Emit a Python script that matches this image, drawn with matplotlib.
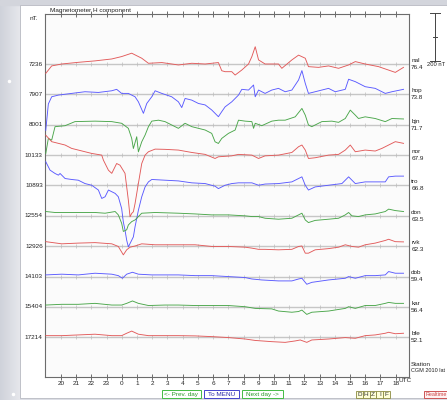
import numpy as np
import matplotlib
matplotlib.use("Agg")
import matplotlib.pyplot as plt
from matplotlib.patches import Rectangle
import matplotlib.transforms as mtransforms

plt.rcParams['font.family'] = ['Liberation Sans', 'DejaVu Sans']

# ---------------- data (time: hours since 19 UTC of previous day, values: nT deviation) -------------
stations = ['nal', 'hop', 'bjn', 'nor', 'tro', 'don', 'rvk', 'dob', 'kar', 'bfe']
latitudes = ['76.4', '73.8', '71.7', '67.9', '66.8', '63.5', '62.3', '59.4', '56.4', '52.1']
base_values = ['7236', '7907', '8001', '10133', '10893', '12554', '12926', '14103', '15404', '17214']
colors = ['red', 'blue', 'green', 'red', 'blue', 'green', 'red', 'blue', 'green', 'red']
hour_labels = ['20', '21', '22', '23', '0', '1', '2', '3', '4', '5', '6', '7', '8', '9', '10',
               '11', '12', '13', '14', '15', '16', '17', '18']

nal_t = [0.0, 0.39, 1.05, 2.14, 3.24, 4.34, 4.99, 5.65, 6.31, 6.75, 7.63, 8.72, 9.60, 10.48, 11.35,
         11.57, 11.79, 12.23, 12.45, 12.89, 13.33, 13.55, 13.77, 13.99, 14.42, 15.30, 15.52, 16.18,
         16.62, 17.06, 17.27, 17.93, 18.59, 19.25, 19.91, 20.35, 21.00, 21.88, 22.98, 23.52]
nal_v = [-39, -8, 0, 7, 13, 21, 31, 45, 24, 3, 6, -4, 3, 0, 6, -28, -32, -32, -46, -25, 0, 31, 72,
         17, 0, 0, -18, 17, 37, 24, -11, -14, -8, -18, -4, 10, 0, -11, -35, -14]

hop_t = [0.0, 0.17, 0.39, 0.83, 1.70, 2.58, 3.46, 4.34, 4.66, 4.99, 5.43, 5.87, 6.09, 6.42, 6.64,
         6.97, 7.19, 7.63, 8.28, 8.72, 8.94, 9.16, 9.60, 10.04, 10.48, 10.91, 11.35, 11.57, 11.79,
         12.23, 12.45, 12.67, 12.89, 13.33, 13.66, 13.77, 13.99, 14.42, 14.86, 15.30, 15.74, 16.18,
         16.62, 16.84, 17.06, 17.27, 17.71, 18.59, 19.03, 19.69, 19.91, 20.35, 21.00, 21.66, 22.32,
         22.76, 23.52]
hop_v = [-150, -40, -10, -3, 4, 11, 8, 15, 21, 4, 4, -10, -31, -79, -38, -10, 15, 4, -10, -31, -55,
         -17, -24, -38, -44, -65, -93, -72, -52, -31, -17, -3, 21, 18, 39, -10, 18, 4, 18, 25, 11, 18,
         60, 99, 46, 4, 11, 25, 11, 21, 63, 53, 32, 25, 4, 11, 21]

bjn_t = [0.0, 0.17, 0.39, 0.61, 1.27, 1.92, 3.24, 4.34, 4.99, 5.43, 5.65, 5.76, 5.98, 6.09, 6.31,
         6.53, 6.75, 6.97, 7.41, 7.84, 8.28, 8.72, 9.16, 9.60, 10.04, 10.48, 10.91, 11.13, 11.35,
         11.57, 12.01, 12.45, 12.67, 13.11, 13.55, 13.66, 13.77, 14.20, 14.86, 15.30, 15.74, 16.40,
         16.84, 17.06, 17.27, 17.49, 18.15, 18.81, 19.25, 19.69, 20.02, 20.35, 20.56, 21.00, 21.66,
         22.32, 22.76, 23.52]
bjn_v = [-120, -57, -64, -8, -4, 13, 15, 13, 6, -15, -57, -99, -50, -113, -71, -43, -8, 15, 19, 13,
         -1, -15, 6, -8, -15, -22, -36, -71, -78, -57, -36, -22, 19, 15, 13, -15, 6, -4, 15, 19, 19,
         33, 68, 40, -1, -8, 13, 15, 10, 26, 61, 40, 26, 33, 26, 13, 26, 24]

nor_t = [0.0, 0.39, 0.83, 1.27, 1.70, 2.14, 3.02, 3.68, 3.79, 4.12, 4.34, 4.66, 4.88, 5.21, 5.43,
         5.54, 5.65, 5.76, 5.87, 6.09, 6.31, 6.53, 6.75, 7.19, 7.84, 8.72, 9.60, 10.48, 11.13, 11.35,
         12.23, 12.67, 13.55, 13.99, 14.42, 15.30, 16.18, 16.62, 16.84, 17.06, 17.27, 17.71, 18.59,
         19.25, 19.69, 20.02, 20.35, 21.00, 21.66, 22.10, 22.54, 22.98, 23.52]
nor_v = [83, 56, 49, 42, 28, 21, 7, 0, -21, -63, -76, -35, -42, -76, -188, -257, -243, -236, -202,
         -118, -35, 0, 14, 25, 24, 21, 11, 3, -14, -7, -3, 3, 0, -14, -3, 0, 11, 35, 42, 21, -14,
         -11, 0, 3, 21, 42, 14, 21, 17, 28, 42, 56, 49]

tro_t = [0.0, 0.28, 0.61, 0.83, 0.94, 1.27, 1.70, 2.14, 2.58, 3.02, 3.46, 3.68, 3.90, 4.12, 4.34,
         4.56, 4.77, 4.99, 5.10, 5.21, 5.32, 5.43, 5.54, 5.65, 5.76, 5.87, 6.09, 6.31, 6.53, 6.75,
         6.97, 7.84, 8.72, 9.60, 10.48, 11.13, 11.35, 11.79, 12.23, 12.67, 13.55, 13.99, 14.42,
         15.30, 16.18, 16.62, 16.84, 17.06, 17.27, 17.71, 18.59, 19.47, 19.91, 20.35, 21.00, 21.66,
         22.32, 22.54, 22.98, 23.52]
tro_v = [99, 64, 50, 43, 50, 29, 25, 22, 8, 1, -19, -54, -47, -19, -26, -33, -47, -96, -152, -186,
         -228, -256, -242, -228, -214, -172, -103, -47, -6, 15, 25, 22, 19, 11, 8, -3, -13, 1, 8,
         11, 11, 1, 6, 8, 15, 29, 36, 1, -19, -6, 1, 8, 36, 8, 15, 15, 15, 36, 39, 39]

don_t = [0.0, 0.61, 2.14, 3.24, 3.90, 4.56, 4.77, 4.99, 5.10, 5.32, 5.43, 5.65, 5.87, 6.09, 6.31,
         7.19, 8.72, 9.82, 10.91, 12.01, 13.11, 13.55, 13.99, 14.42, 15.30, 16.18, 16.62, 16.84,
         17.06, 17.27, 17.71, 18.59, 19.25, 19.69, 19.91, 20.13, 20.56, 21.00, 21.66, 22.32, 22.54,
         22.98, 23.52]
don_v = [18, 14, 14, 14, 11, 18, 4, -31, -65, -58, -38, -24, -17, -3, 11, 14, 11, 8, 4, 4, 0, -3,
         -3, -10, -14, -10, 4, 11, -17, -28, -19, -14, -10, 4, 14, 0, -3, 4, 8, 18, 28, 22, 18]

rvk_t = [0.0, 1.05, 2.14, 3.24, 4.34, 4.77, 5.10, 5.32, 5.54, 5.87, 6.31, 7.19, 8.72, 9.82, 10.91,
         12.01, 13.11, 13.55, 13.99, 14.42, 15.30, 16.18, 16.62, 16.84, 17.06, 17.27, 17.71, 18.59,
         19.25, 19.69, 20.13, 20.56, 21.00, 21.66, 22.32, 22.54, 22.98, 23.52]
rvk_v = [19, 10, 13, 15, 10, -1, -36, -15, -4, 1, 10, 6, 6, 6, -1, -1, -4, -8, -13, -13, -15, -13,
         -1, 1, -29, -29, -15, -10, -4, 6, -1, -4, 6, 13, 24, 29, 19, 18]

dob_t = [0.0, 1.05, 2.14, 3.24, 4.34, 4.77, 5.04, 5.32, 5.70, 6.09, 6.97, 8.72, 9.82, 10.91, 12.01,
         13.11, 13.55, 14.20, 15.30, 16.18, 16.62, 16.84, 17.16, 17.49, 18.59, 19.69, 19.91, 20.35,
         21.00, 21.66, 22.32, 22.54, 22.98, 23.52]
dob_v = [7, 10, 7, 14, 10, 4, -7, 10, 18, 10, 7, 7, 4, 4, 0, -4, -10, -14, -18, -18, -10, -7, -32,
         -24, -14, -7, 0, -7, 4, 4, 7, 21, 14, 14]

kar_t = [0.0, 1.05, 2.14, 3.24, 4.34, 4.99, 5.32, 5.70, 6.09, 6.75, 7.84, 8.72, 9.82, 10.91, 12.01,
         13.11, 13.77, 14.86, 15.30, 16.18, 16.62, 16.84, 17.16, 17.49, 18.59, 19.69, 19.91, 20.35,
         21.00, 21.66, 22.32, 22.54, 22.98, 23.52]
kar_v = [8, 11, 11, 15, 8, 8, 15, 25, 15, 6, 8, 8, 6, 6, 6, 1, -6, -8, -17, -22, -19, -13, -31, -22,
         -17, -6, 1, -6, 6, 6, 15, 19, 15, 15]

bfe_t = [0.0, 1.05, 2.14, 3.24, 4.34, 4.99, 5.32, 5.65, 6.09, 6.75, 7.84, 8.72, 9.82, 10.91, 12.01,
         13.11, 13.77, 14.86, 15.74, 16.40, 16.73, 17.16, 17.49, 18.59, 19.69, 20.35, 21.00, 21.66,
         22.32, 22.54, 22.98, 23.52]
bfe_v = [7, 7, 10, 13, 7, 7, 17, 26, 13, 7, 7, 7, 6, 3, -1, -7, -13, -18, -21, -15, -11, -21, -11,
         -7, -1, -4, 7, 10, 17, 21, 15, 17]

series = [(nal_t, nal_v), (hop_t, hop_v), (bjn_t, bjn_v), (nor_t, nor_v), (tro_t, tro_v),
          (don_t, don_v), (rvk_t, rvk_v), (dob_t, dob_v), (kar_t, kar_v), (bfe_t, bfe_v)]

# ---------------- layout ---------------------------------------------------------------------------
W, H = 447, 400
fig = plt.figure(figsize=(W / 100, H / 100), dpi=100)
fig.patch.set_facecolor('#dcdee5')

bg = fig.add_axes([0, 0, 1, 1])
bg.set_xlim(0, W)
bg.set_ylim(H, 0)
bg.axis('off')
# left gradient strip
grad = np.linspace(0, 1, 64)[None, :]
bg.imshow(grad, extent=[0, 20, 400, 0], cmap=matplotlib.colors.LinearSegmentedColormap.from_list(
    'g', ['#cfd2da', '#e6e7ec']), aspect='auto', zorder=0)
bg.add_patch(Rectangle((0, 0), W, 5, color='#d3d5dc', zorder=0))
bg.add_patch(Rectangle((20, 5), W - 20, 393, facecolor='white', edgecolor='#b8bac2', lw=0.6, zorder=1))
bg.plot([9, 13], [81, 394], 'o', color='white', ms=1.5, zorder=1)

L, R, T, B = 45, 409, 14, 377
ax = fig.add_axes([L / W, (H - B) / H, (R - L) / W, (B - T) / H])
K = 200.0 / 48.0  # nT per pixel
ax.set_xlim(-0.05, 23.88)
ax.set_ylim(-(B - T) * K, 0)
ax.set_facecolor('#fbfbfb')
for s in ax.spines.values():
    s.set_color('#6c6c6c')
    s.set_linewidth(0.8)

col = {'red': '#e25a5a', 'blue': '#5a5aff', 'green': '#4aa64a'}
hours = np.arange(1, 24)
trans = mtransforms.blended_transform_factory(ax.transAxes, ax.transData)
for i, (name, lat, bv, c, (tt, vv)) in enumerate(zip(stations, latitudes, base_values, colors, series)):
    y0 = -(64 + 30.37 * i - T) * K
    ax.axhline(y0, color='#c6c6c6', lw=1.0, zorder=1)
    ax.vlines(hours, y0 - 2 * K, y0 + 2 * K, color='#bdbdbd', lw=0.5, zorder=1)
    ax.plot(tt, y0 + np.array(vv), color=col[c], lw=0.65, zorder=3)
    ax.text(-0.006, y0, bv, transform=trans, ha='right', va='center', fontsize=4.6, color='#222')
    ax.text(1.006, y0 + 3.6 * K, name, transform=trans, ha='left', va='center', fontsize=4.6, color='#222')
    ax.text(1.006, y0 - 3.4 * K, lat, transform=trans, ha='left', va='center', fontsize=4.6, color='#222')

ax.set_xticks(hours)
ax.set_xticklabels(hour_labels)
ax.set_yticks([])
ax.tick_params(axis='x', top=True, bottom=True, direction='inout', length=4, width=0.6,
               color='#555555', labelsize=4.6, pad=0.6, labelcolor='#222')

# scale bar (200 nT)
xs = (435 - L) / (R - L)
dx = 5 / (R - L)
ax.plot([xs, xs], [K, K - 200], transform=trans, color='#444', lw=0.7, clip_on=False)
ax.plot([xs - dx, xs + dx], [K, K], transform=trans, color='#444', lw=0.7, clip_on=False)
ax.plot([xs - dx, xs + dx], [K - 200, K - 200], transform=trans, color='#444', lw=0.7, clip_on=False)
ax.plot([xs - dx / 2.5, xs + dx / 2.5], [K - 100, K - 100], transform=trans, color='#444', lw=0.7,
        clip_on=False)

# texts in pixel coordinates
fs = 4.6
bg.text(50, 10.5, 'Magnetometer H component', fontsize=fs, ha='left', va='center', color='#222', zorder=5)
bg.text(30, 19, 'nT.', fontsize=fs, ha='left', va='center', color='#222', zorder=5)
bg.text(375, 20.5, '12.sep 2013', fontsize=fs, ha='center', va='center', color='#222', zorder=5)
bg.annotate('', xy=(394, 29), xytext=(394, 14),
            arrowprops=dict(arrowstyle='-|>', lw=0.6, color='#333', mutation_scale=4), zorder=5)
bg.text(445, 65, '200 nT', fontsize=4.2, ha='right', va='center', color='#222', zorder=5)
bg.text(405, 381, 'UTC', fontsize=fs, ha='center', va='center', color='#222', zorder=5)
bg.text(411, 365, 'Station', fontsize=fs, ha='left', va='center', color='#222', zorder=5)
bg.text(411, 371, 'CGM 2010 lat', fontsize=4.0, ha='left', va='center', color='#222', zorder=5)
bg.text(235, 371, 'Tromsø Geophysical Observatory - UiT Space', fontsize=fs, ha='center',
        va='center', color='#d2d2d2', zorder=5)

# buttons
def button(x0, x1, label, edge, tcol, face='white'):
    bg.add_patch(Rectangle((x0, 390), x1 - x0, 8, facecolor=face, edgecolor=edge, lw=0.7, zorder=5))
    bg.text((x0 + x1) / 2, 394.2, label, fontsize=fs, ha='center', va='center', color=tcol, zorder=6)

button(162, 201, '<- Prev. day', '#44bb44', '#2a9a2a')
button(204, 239, 'To MENU', '#4444cc', '#2a2aaa')
button(242, 283, 'Next day ->', '#44bb44', '#2a9a2a')
for j, letter in enumerate(['D', 'H', 'Z', 'I', 'F']):
    x0 = 356 + j * 6.8
    bg.add_patch(Rectangle((x0, 391), 6.8, 7, facecolor='#ffffd8', edgecolor='#8a8a40', lw=0.6, zorder=5))
    bg.text(x0 + 3.4, 394.6, letter, fontsize=fs, ha='center', va='center', color='#333', zorder=6)
bg.add_patch(Rectangle((424, 391), 30, 7, facecolor='#fff2f2', edgecolor='#cc5555', lw=0.7, zorder=5))
bg.text(425.5, 394.6, 'Realtime', fontsize=3.9, ha='left', va='center', color='#cc4444', zorder=6)

fig.savefig('out.png', dpi=100)
